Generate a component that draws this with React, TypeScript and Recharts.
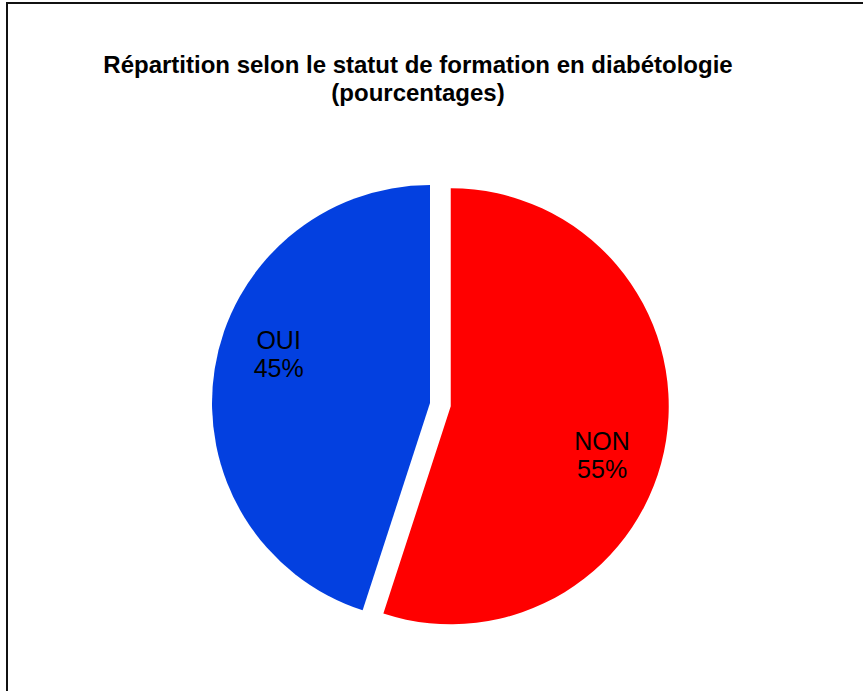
import React from 'react';
import { PieChart, Pie, Cell } from 'recharts';

const categories = ['NON', 'OUI'];
const values = [55, 45];
const colors = ['#ff0000', '#0340e0'];
const titleLines = ['Répartition selon le statut de formation en diabétologie', '(pourcentages)'];

const W = 863;
const H = 691;
const R = 218;
const CX = 430;
const CY = 403;
const EXPLODE = 21;
const RAD = Math.PI / 180;
const FONT = '"Liberation Sans", Arial, sans-serif';

const data = categories.map((name, i) => ({ name, value: values[i] }));
const total = values.reduce((a, b) => a + b, 0);

// mid angle of the exploded slice (NON), measured the recharts way (ccw from 3 o'clock)
const nonMid = 90 - (values[0] / total) * 180;

const makeLabel = (showIndex: number) => (props: any) => {
  const { cx, cy, midAngle, outerRadius, index } = props;
  if (index !== showIndex) return null;
  const a = (midAngle - 9) * RAD;
  const r = outerRadius * 0.73;
  const x = cx + r * Math.cos(a);
  const y = cy - r * Math.sin(a);
  return (
    <text x={x} textAnchor="middle" fontFamily={FONT} fontSize={25} fill="#000">
      <tspan x={x} y={y - 5}>{categories[index]}</tspan>
      <tspan x={x} y={y + 23}>{values[index]}%</tspan>
    </text>
  );
};

export default function App() {
  return (
    <div style={{ position: 'relative', width: W, height: H, overflow: 'hidden', background: '#fff' }}>
      <style>{`body{margin:0;overflow:hidden}`}</style>
      <div
        style={{
          position: 'absolute',
          left: 6,
          top: 2,
          width: W,
          height: H,
          borderLeft: '2px solid #111',
          borderTop: '2px solid #111',
        }}
      />
      <div style={{ position: 'absolute', left: 0, top: 0 }}>
        <PieChart width={W} height={H} margin={{ top: 0, right: 0, bottom: 0, left: 0 }}>
          <Pie
            data={data}
            dataKey="value"
            nameKey="name"
            cx={CX}
            cy={CY}
            outerRadius={R}
            startAngle={90}
            endAngle={-270}
            stroke="none"
            label={makeLabel(1)}
            labelLine={false}
            isAnimationActive={false}
          >
            {data.map((d, i) => (
              <Cell key={d.name} fill={i === 1 ? colors[1] : 'transparent'} />
            ))}
          </Pie>
          <Pie
            data={data}
            dataKey="value"
            nameKey="name"
            cx={CX + EXPLODE * Math.cos(nonMid * RAD)}
            cy={CY - EXPLODE * Math.sin(nonMid * RAD)}
            outerRadius={R}
            startAngle={90}
            endAngle={-270}
            stroke="none"
            label={makeLabel(0)}
            labelLine={false}
            isAnimationActive={false}
          >
            {data.map((d, i) => (
              <Cell key={d.name} fill={i === 0 ? colors[0] : 'transparent'} />
            ))}
          </Pie>
        </PieChart>
      </div>
      <svg
        width={W}
        height={H}
        style={{ position: 'absolute', left: 0, top: 0, pointerEvents: 'none' }}
      >
        <text x={418} y={73} textAnchor="middle" fontFamily={FONT} fontWeight="bold" fontSize={24} fill="#000">
          {titleLines[0]}
        </text>
        <text x={418} y={101} textAnchor="middle" fontFamily={FONT} fontWeight="bold" fontSize={24} fill="#000">
          {titleLines[1]}
        </text>
      </svg>
    </div>
  );
}
